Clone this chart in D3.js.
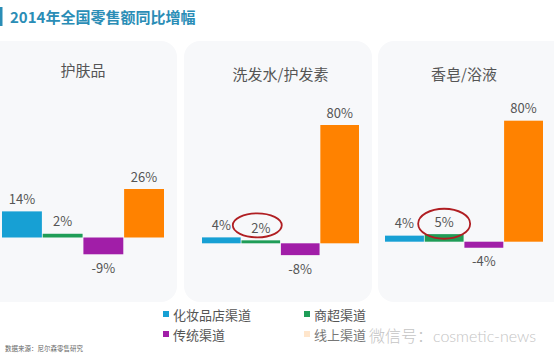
<!DOCTYPE html>
<html><head><meta charset="utf-8">
<script src="https://cdn.jsdelivr.net/npm/d3@7/dist/d3.min.js"></script>
<style>
html,body{margin:0;padding:0;background:#fff;}
svg{display:block;font-family:"Noto Sans CJK SC","Noto Sans",sans-serif;}
</style></head>
<body><svg id="c" width="554" height="358"></svg>
<script>
// ---- data ----
const title = "2014年全国零售额同比增幅";
const categories = ["护肤品", "洗发水/护发素", "香皂/浴液"];
const channels = ["化妆品店渠道", "商超渠道", "传统渠道", "线上渠道"];
const skinCare = [14, 2, -9, 26];
const hairCare = [4, 2, -8, 80];
const soapBath = [4, 5, -4, 80];
const highlighted = [null, 1, 1]; // index of circled bar per panel
const source = "数据来源：尼尔森零售研究";
const watermark = "微信号：cosmetic-news";

const seriesByPanel = [skinCare, hairCare, soapBath];
const colors = ["#17a0d4", "#1f9d57", "#a11ea8", "#ff8200"];

// ---- layout ----
const panels = [
  {px: -20, pw: 197, x0: 2,   x1: 164, base: 237.5, top: 189,   titleY: 69},
  {px: 184, pw: 188, x0: 202, x1: 359, base: 243.3, top: 125,   titleY: 73},
  {px: 378, pw: 200, x0: 385, x1: 543, base: 241.7, top: 120.7, titleY: 73}
];
const ellipses = [null, {dx: -3.5, dy: -2, rx: 24.5, ry: 12}, {dx: 0, dy: 2.6, rx: 26, ry: 15}];

const svg = d3.select("#c");

// title
svg.append("rect").attr("x", 0).attr("y", 7).attr("width", 2.5).attr("height", 19).attr("fill", "#2a8db6");
svg.append("text").attr("x", 10).attr("y", 16).attr("dominant-baseline", "central")
  .attr("font-size", 15).attr("font-weight", "bold").attr("fill", "#2a8db6").text(title);

panels.forEach((p, i) => {
  const g = svg.append("g");
  g.append("rect").attr("x", p.px).attr("y", 41).attr("width", p.pw).attr("height", 261)
    .attr("rx", 16).attr("fill", "#f7f8fa");
  g.append("text").attr("x", (p.x0 + p.x1) / 2).attr("y", p.titleY)
    .attr("text-anchor", "middle").attr("dominant-baseline", "central")
    .attr("font-size", 15).attr("fill", "#555").text(categories[i]);

  const vals = seriesByPanel[i];
  const x = d3.scaleBand().domain(channels).range([p.x0, p.x1]).paddingInner(0.02);
  const maxV = d3.max(vals);
  const y = d3.scaleLinear().domain([0, maxV]).range([p.base, p.top]);

  g.selectAll("rect.bar").data(vals).join("rect").attr("class", "bar")
    .attr("x", (d, j) => x(channels[j]))
    .attr("width", x.bandwidth())
    .attr("y", d => Math.min(y(d), y(0)))
    .attr("height", d => Math.abs(y(d) - y(0)))
    .attr("fill", (d, j) => colors[j]);

  g.selectAll("text.lbl").data(vals).join("text").attr("class", "lbl")
    .attr("x", (d, j) => x(channels[j]) + x.bandwidth() / 2)
    .attr("y", d => d >= 0 ? y(d) - 13 : y(d) + 13)
    .attr("text-anchor", "middle").attr("dominant-baseline", "central")
    .attr("font-size", 13).attr("fill", "#555")
    .text(d => d + "%");

  const h = highlighted[i];
  if (h !== null) {
    const e = ellipses[i];
    const d = vals[h];
    g.append("ellipse")
      .attr("cx", x(channels[h]) + x.bandwidth() / 2 + e.dx)
      .attr("cy", y(d) - 13 + e.dy)
      .attr("rx", e.rx).attr("ry", e.ry)
      .attr("fill", "none").attr("stroke", "#b01e22").attr("stroke-width", 1.8);
  }
});

// legend
const legPos = [[163, 314], [304, 314], [163, 334], [304, 334]];
channels.forEach((c, j) => {
  const [lx, ly] = legPos[j];
  svg.append("rect").attr("x", lx).attr("y", ly - 3).attr("width", 6).attr("height", 6)
    .attr("fill", colors[j]).attr("opacity", j === 3 ? 0.2 : 1);
  svg.append("text").attr("x", lx + 10).attr("y", ly).attr("dominant-baseline", "central")
    .attr("font-size", 13).attr("fill", j === 3 ? "#777" : "#555").text(c);
});

// watermark
svg.append("text").attr("x", 369).attr("y", 335).attr("dominant-baseline", "central")
  .attr("font-size", 16).attr("font-family", "Lato, 'Noto Sans CJK SC', sans-serif")
  .attr("font-weight", 300).attr("fill", "#c4c4c4").text(watermark);

// source
svg.append("text").attr("x", 5).attr("y", 348).attr("dominant-baseline", "central")
  .attr("font-size", 6.5).attr("fill", "#666").text(source);
</script></body></html>
